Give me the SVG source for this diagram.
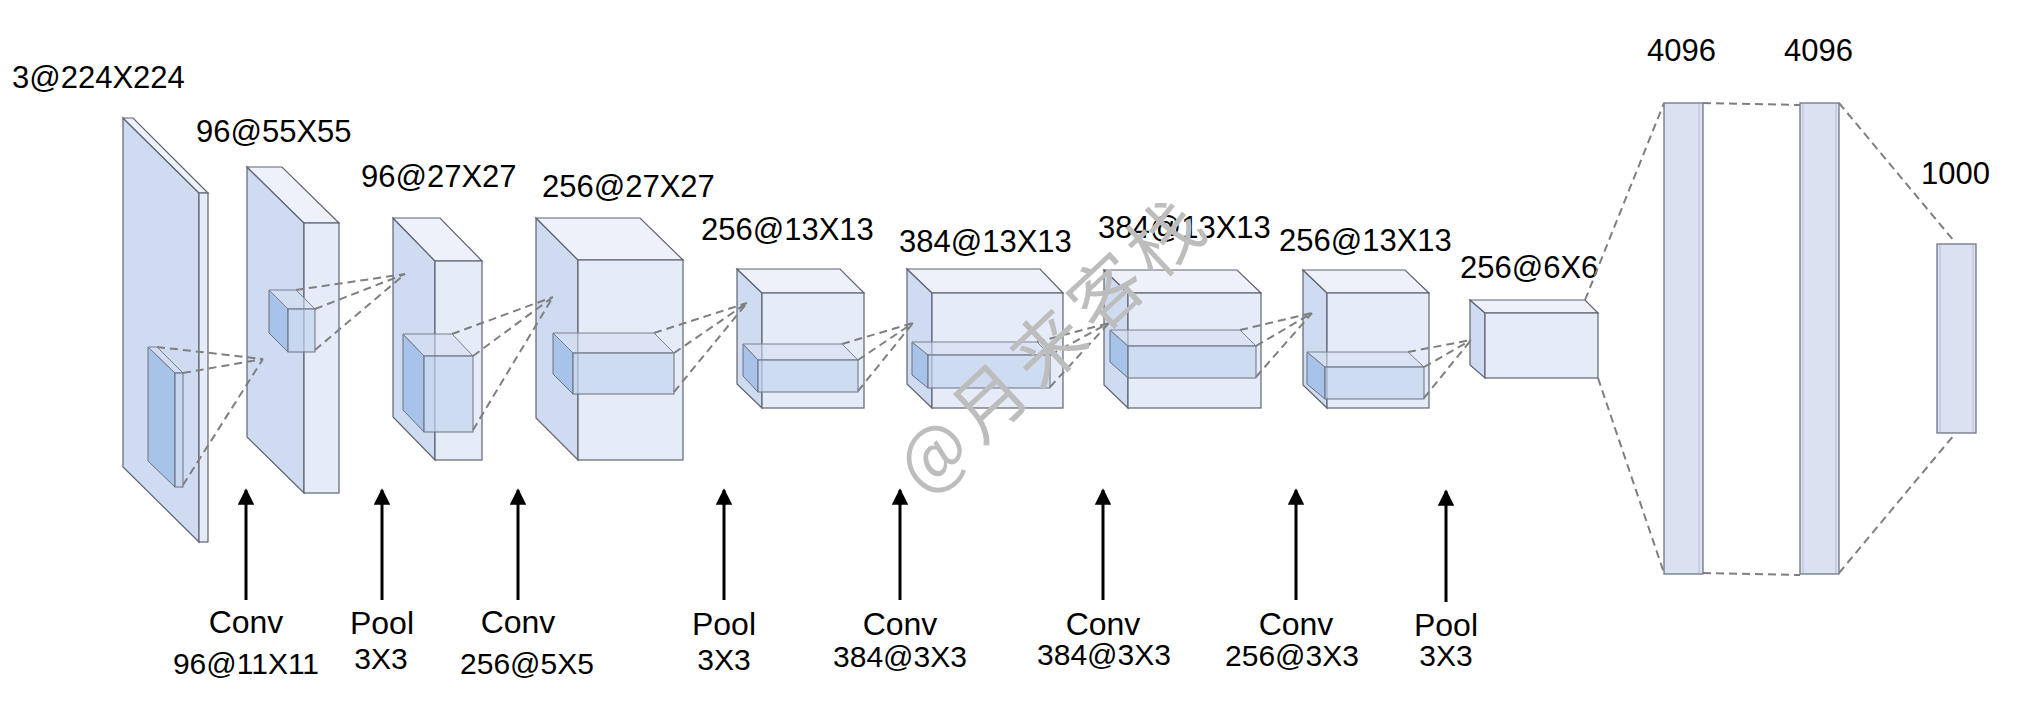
<svg xmlns="http://www.w3.org/2000/svg" width="2038" height="702" viewBox="0 0 2038 702">
<style>
.lf{fill:#CFDBF1;stroke:#5E6472;stroke-width:1.2}
.ff{fill:#E6ECF7;stroke:#5E6472;stroke-width:1.2}
.tf{fill:#EEF1FA;stroke:#5E6472;stroke-width:1.2}
.klf{fill:#9EBDE7;fill-opacity:0.8;stroke:#6A7080;stroke-width:1}
.kff{fill:#C3D5F0;fill-opacity:0.7;stroke:#6A7080;stroke-width:1}
.ktf{fill:#D3DEF3;fill-opacity:0.6;stroke:#7A8090;stroke-width:1}
.fc{fill:#DAE1F1;stroke:#6E7388;stroke-width:1.3}
.fcl{stroke:#B6BDD6;stroke-width:1}
.dash{stroke:#7F7F7F;stroke-width:2;stroke-dasharray:8 5;fill:none}
.arr{stroke:#000;stroke-width:3}
.t{font-family:"Liberation Sans",Arial,sans-serif;font-size:31px;fill:#000}
.b{font-family:"Liberation Sans",Arial,sans-serif;font-size:32px;fill:#000;text-anchor:middle}
.s{font-family:"Liberation Sans",Arial,sans-serif;font-size:30px;fill:#000;text-anchor:middle}
.wm{font-family:"Noto Sans CJK SC",sans-serif;font-size:72px;fill:#BDBDBD;text-anchor:middle;letter-spacing:8px}
</style>
<defs>
<marker id="ah" viewBox="0 0 10 10" refX="9" refY="5" markerWidth="5.5" markerHeight="5.5" orient="auto" markerUnits="strokeWidth">
<path d="M0,0 L10,5 L0,10 z" fill="#000"/>
</marker>
</defs>
<rect width="2038" height="702" fill="#fff"/>

<g id="layer1">
<polygon class="lf" points="123,118 199,193 199,542 123,467"/>
<polygon class="tf" points="123,118 133,118 208,193 199,193"/>
<rect class="ff" x="199" y="193" width="9" height="349"/>
<polygon class="klf" points="148,347 175,373 175,487 148,461"/>
<polygon class="ktf" points="148,347 157,347 183,373 175,373"/>
<rect class="kff" x="175" y="373" width="8" height="114"/>
<text class="t" x="12" y="88">3@224X224</text>
</g>

<g id="layer2">
<polygon class="lf" points="247,167 304,223 304,493 247,437"/>
<polygon class="tf" points="247,167 282,167 339,223 304,223"/>
<rect class="ff" x="304" y="223" width="35" height="270"/>
<polygon class="klf" points="269,290 288,309 288,352 269,333"/>
<polygon class="ktf" points="269,290 296,290 315,309 288,309"/>
<rect class="kff" x="288" y="309" width="27" height="43"/>
<text class="t" x="196" y="142">96@55X55</text>
</g>

<g id="layer3">
<polygon class="lf" points="393,218 435,261 435,460 393,417"/>
<polygon class="tf" points="393,218 440,218 482,261 435,261"/>
<rect class="ff" x="435" y="261" width="47" height="199"/>
<polygon class="klf" points="403,334 424,356 424,432 403,410"/>
<polygon class="ktf" points="403,334 452,334 473,356 424,356"/>
<rect class="kff" x="424" y="356" width="49" height="76"/>
<text class="t" x="361" y="187">96@27X27</text>
</g>

<g id="layer4">
<polygon class="lf" points="536,218 578,260 578,460 536,418"/>
<polygon class="tf" points="536,218 640,218 683,260 578,260"/>
<rect class="ff" x="578" y="260" width="105" height="200"/>
<polygon class="klf" points="553,333 573,353 573,394 553,374"/>
<polygon class="ktf" points="553,333 654,333 674,353 573,353"/>
<rect class="kff" x="573" y="353" width="101" height="41"/>
<text class="t" x="542" y="197">256@27X27</text>
</g>

<g id="layer5">
<polygon class="lf" points="737,269 762,293 762,408 737,384"/>
<polygon class="tf" points="737,269 840,269 864,293 762,293"/>
<rect class="ff" x="762" y="293" width="102" height="115"/>
<polygon class="klf" points="743,344 758,360 758,392 743,376"/>
<polygon class="ktf" points="743,344 842,344 858,360 758,360"/>
<rect class="kff" x="758" y="360" width="100" height="32"/>
<text class="t" x="701" y="240">256@13X13</text>
</g>

<g id="layer6">
<polygon class="lf" points="907,269 932,293 932,408 907,384"/>
<polygon class="tf" points="907,269 1040,269 1063,293 932,293"/>
<rect class="ff" x="932" y="293" width="131" height="115"/>
<polygon class="klf" points="912,342 928,355 928,388 912,375"/>
<polygon class="ktf" points="912,342 1037,342 1050,355 928,355"/>
<rect class="kff" x="928" y="355" width="122" height="33"/>
<text class="t" x="899" y="252">384@13X13</text>
</g>

<g id="layer7">
<polygon class="lf" points="1104,270 1128,293 1128,408 1104,385"/>
<polygon class="tf" points="1104,270 1237,270 1261,293 1128,293"/>
<rect class="ff" x="1128" y="293" width="133" height="115"/>
<polygon class="klf" points="1110,330 1128,346 1128,378 1110,362"/>
<polygon class="ktf" points="1110,330 1240,330 1256,346 1128,346"/>
<rect class="kff" x="1128" y="346" width="128" height="32"/>
<text class="t" x="1098" y="238">384@13X13</text>
</g>

<g id="layer8">
<polygon class="lf" points="1303,270 1327,293 1327,408 1303,385"/>
<polygon class="tf" points="1303,270 1405,270 1429,293 1327,293"/>
<rect class="ff" x="1327" y="293" width="102" height="115"/>
<polygon class="klf" points="1307,352 1325,367 1325,399 1307,384"/>
<polygon class="ktf" points="1307,352 1408,352 1424,367 1325,367"/>
<rect class="kff" x="1325" y="367" width="99" height="32"/>
<text class="t" x="1279" y="251">256@13X13</text>
</g>

<g id="layer9">
<polygon class="lf" points="1470,300 1485,313 1485,378 1470,365"/>
<polygon class="tf" points="1470,300 1585,300 1598,313 1485,313"/>
<rect class="ff" x="1485" y="313" width="113" height="65"/>
<text class="t" x="1460" y="278">256@6X6</text>
</g>

<g id="fc1">
<rect class="fc" x="1664" y="103" width="39" height="471"/>
<line class="fcl" x1="1699" y1="104" x2="1699" y2="573"/>
<text class="t" x="1647" y="61">4096</text>
</g>

<g id="fc2">
<rect class="fc" x="1800" y="103" width="39" height="471"/>
<line class="fcl" x1="1803" y1="104" x2="1803" y2="573"/>
<line class="fcl" x1="1836" y1="104" x2="1836" y2="573"/>
<text class="t" x="1784" y="61">4096</text>
</g>

<g id="fc3">
<rect class="fc" x="1937" y="244" width="39" height="189"/>
<line class="fcl" x1="1940" y1="245" x2="1940" y2="432"/>
<line class="fcl" x1="1973" y1="245" x2="1973" y2="432"/>
<text class="t" x="1921" y="184">1000</text>
</g>

<g id="connectors">
<path class="dash" d="M157,347 L263,359 M183,373 L263,359 M183,485 L263,359"/>
<path class="dash" d="M296,290 L405,274 M315,309 L405,274 M315,350 L405,274"/>
<path class="dash" d="M452,334 L553,297 M473,356 L553,297 M473,430 L553,297"/>
<path class="dash" d="M654,333 L747,303 M674,353 L747,303 M674,392 L747,303"/>
<path class="dash" d="M842,344 L913,323 M858,360 L913,323 M858,391 L913,323"/>
<path class="dash" d="M1037,342 L1109,323 M1050,355 L1109,323 M1050,387 L1109,323"/>
<path class="dash" d="M1240,330 L1312,313 M1256,346 L1312,313 M1256,377 L1312,313"/>
<path class="dash" d="M1408,352 L1471,340 M1424,367 L1471,340 M1424,398 L1471,340"/>
<path class="dash" d="M1585,300 L1664,103 M1598,378 L1664,573"/>
<path class="dash" d="M1703,103 L1800,105 M1703,573 L1800,575"/>
<path class="dash" d="M1839,103 L1954,241 M1839,573 L1954,435"/>
<line class="arr" x1="246" y1="600" x2="246" y2="490" marker-end="url(#ah)"/>
<line class="arr" x1="382" y1="600" x2="382" y2="490" marker-end="url(#ah)"/>
<line class="arr" x1="518" y1="600" x2="518" y2="490" marker-end="url(#ah)"/>
<line class="arr" x1="724" y1="600" x2="724" y2="490" marker-end="url(#ah)"/>
<line class="arr" x1="900" y1="600" x2="900" y2="490" marker-end="url(#ah)"/>
<line class="arr" x1="1103" y1="600" x2="1103" y2="490" marker-end="url(#ah)"/>
<line class="arr" x1="1296" y1="600" x2="1296" y2="490" marker-end="url(#ah)"/>
<line class="arr" x1="1446" y1="602" x2="1446" y2="491" marker-end="url(#ah)"/>
</g>

<g id="op1"><text class="b" x="246" y="633">Conv</text><text class="s" x="246" y="674">96@11X11</text></g>
<g id="op2"><text class="b" x="382" y="634">Pool</text><text class="s" x="381" y="669">3X3</text></g>
<g id="op3"><text class="b" x="518" y="633">Conv</text><text class="s" x="527" y="674">256@5X5</text></g>
<g id="op4"><text class="b" x="724" y="635">Pool</text><text class="s" x="724" y="670">3X3</text></g>
<g id="op5"><text class="b" x="900" y="635">Conv</text><text class="s" x="900" y="667">384@3X3</text></g>
<g id="op6"><text class="b" x="1103" y="635">Conv</text><text class="s" x="1104" y="665">384@3X3</text></g>
<g id="op7"><text class="b" x="1296" y="635">Conv</text><text class="s" x="1292" y="666">256@3X3</text></g>
<g id="op8"><text class="b" x="1446" y="636">Pool</text><text class="s" x="1446" y="666">3X3</text></g>

<g id="watermark">
<text class="wm" transform="translate(1053,344) rotate(-43)" x="0" y="25">@月来客栈</text>
</g>
</svg>
